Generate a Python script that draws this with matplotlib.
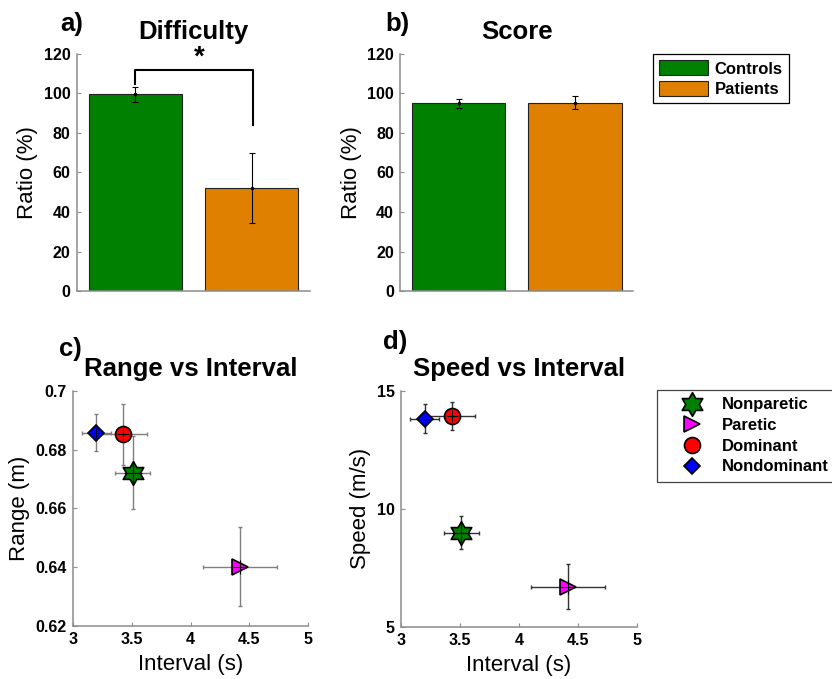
import numpy as np
import matplotlib
matplotlib.use('Agg')
import matplotlib.pyplot as plt
from matplotlib.path import Path
from matplotlib.patches import Patch
from matplotlib.lines import Line2D

plt.rcParams['font.family'] = ['Liberation Sans', 'DejaVu Sans']

# bar data (a, b)
groups = ['Controls', 'Patients']
difficulty_mean = [99.5, 52.3]
difficulty_err = [4.0, 17.7]
score_mean = [95.0, 95.2]
score_err = [2.1, 3.3]
ratio_ticks = [0, 20, 40, 60, 80, 100, 120]

# scatter data (c, d)
conditions = ['Nonparetic', 'Paretic', 'Dominant', 'Nondominant']
interval_mean = [3.51, 4.42, 3.43, 3.20]
interval_err = [0.148, 0.315, 0.20, 0.125]
range_mean = [0.6722, 0.6402, 0.6852, 0.6858]
range_err = [0.0125, 0.0135, 0.0105, 0.0064]
speed_mean = [8.98, 6.70, 13.95, 13.83]
speed_err = [0.70, 0.95, 0.60, 0.62]
interval_ticks = [3, 3.5, 4, 4.5, 5]
interval_labels = ['3', '3.5', '4', '4.5', '5']
range_ticks = [0.62, 0.64, 0.66, 0.68, 0.70]
range_labels = ['0.62', '0.64', '0.66', '0.68', '0.7']
speed_ticks = [5, 10, 15]

bar_colors = ['#008000', '#E08000']

# hexagram marker, point up
ang_out = np.deg2rad(90 + 60 * np.arange(6))
ang_in = ang_out + np.deg2rad(30)
r_in = 1 / np.sqrt(3)
verts = []
for a, b in zip(ang_out, ang_in):
    verts.append((np.cos(a), np.sin(a)))
    verts.append((r_in * np.cos(b), r_in * np.sin(b)))
verts.append(verts[0])
codes = [Path.MOVETO] + [Path.LINETO] * 11 + [Path.CLOSEPOLY]
hexagram = Path(verts, codes)

mstyle = {
    'Nonparetic': dict(marker=hexagram, color='#008000', ms=17),
    'Paretic': dict(marker='>', color='#FF00FF', ms=12),
    'Dominant': dict(marker='o', color='#FF0000', ms=11.5),
    'Nondominant': dict(marker='D', color='#0000FF', ms=8.5),
}

TICK_FS = 11.5
LABEL_FS = 16
TITLE_FS = 18.5
LEG_FS = 12


def style_axes(ax):
    for s in ['top', 'right']:
        ax.spines[s].set_visible(False)
    for s in ['left', 'bottom']:
        ax.spines[s].set_color('#8c8c8c')
        ax.spines[s].set_linewidth(1.1)
    ax.tick_params(direction='in', length=3, color='#8c8c8c', labelsize=TICK_FS, pad=4.5)
    for lab in ax.get_xticklabels() + ax.get_yticklabels():
        lab.set_fontweight('bold')


fig = plt.figure(figsize=(8.32, 6.79), dpi=100)

ax_a = fig.add_axes([0.0925, 0.5714, 0.2801, 0.3491])
ax_b = fig.add_axes([0.4811, 0.5714, 0.2801, 0.3491])
ax_c = fig.add_axes([0.0874, 0.0781, 0.2832, 0.3461])
ax_d = fig.add_axes([0.4820, 0.0770, 0.2833, 0.3472])

x = np.arange(1, len(groups) + 1)
for ax, means, errs, title in [(ax_a, difficulty_mean, difficulty_err, 'Difficulty'),
                                (ax_b, score_mean, score_err, 'Score')]:
    ax.bar(x, means, width=0.8, color=bar_colors, edgecolor='#222222', linewidth=0.8)
    ax.errorbar(x, means, yerr=errs, fmt='.', color='black', ms=3,
                elinewidth=0.8, capsize=2, capthick=0.8)
    ax.set_xlim(0.5, 2.5)
    ax.set_ylim(0, 120)
    ax.set_yticks(ratio_ticks)
    ax.set_xticks([])
    ax.set_ylabel('Ratio (%)', fontsize=LABEL_FS, labelpad=4)
    ax.set_title(title, fontsize=TITLE_FS, fontweight='bold', pad=11)
    style_axes(ax)

# significance bracket on difficulty
ax_a.plot([1, 1, 2.01, 2.01], [105, 111.7, 111.7, 84], color='black', lw=1.5, clip_on=False)
ax_a.text(1.55, 111.5, '*', fontsize=20, fontweight='bold', ha='center', va='bottom')

for ax, ymean, yerr, ecol, ylabel, title in [
        (ax_c, range_mean, range_err, '#7f7f7f', 'Range (m)', 'Range vs Interval'),
        (ax_d, speed_mean, speed_err, '#333333', 'Speed (m/s)', 'Speed vs Interval')]:
    for i, cond in enumerate(conditions):
        st = mstyle[cond]
        ax.errorbar(interval_mean[i], ymean[i], xerr=interval_err[i], yerr=yerr[i],
                    fmt='none', ecolor=ecol, elinewidth=1.0, capsize=1.5, capthick=1.0, zorder=2)
        ax.plot(interval_mean[i], ymean[i], linestyle='none', marker=st['marker'],
                markersize=st['ms'], markerfacecolor=st['color'], markeredgecolor='black',
                markeredgewidth=1.2, zorder=3)
        ax.plot(interval_mean[i], ymean[i], linestyle='none', marker='+',
                markersize=st['ms'] * 0.8, color='black', markeredgewidth=0.8, zorder=4)
    ax.set_xlim(3, 5)
    ax.set_xticks(interval_ticks)
    ax.set_xticklabels(interval_labels)
    ax.set_xlabel('Interval (s)', fontsize=LABEL_FS, labelpad=5)
    ax.set_ylabel(ylabel, fontsize=LABEL_FS, labelpad=4)
    ax.set_title(title, fontsize=TITLE_FS, fontweight='bold', pad=11)

ax_c.set_ylim(0.62, 0.70)
ax_c.set_yticks(range_ticks)
ax_c.set_yticklabels(range_labels)
ax_d.set_ylim(5, 15)
ax_d.set_yticks(speed_ticks)
style_axes(ax_c)
style_axes(ax_d)

# panel letters
fig.text(60 / 832, 1 - 24 / 679, 'a)', fontsize=TITLE_FS, fontweight='bold', ha='left', va='center')
fig.text(385 / 832, 1 - 24 / 679, 'b)', fontsize=TITLE_FS, fontweight='bold', ha='left', va='center')
fig.text(59 / 832, 1 - 349 / 679, 'c)', fontsize=TITLE_FS, fontweight='bold', ha='left', va='center')
fig.text(383 / 832, 1 - 342 / 679, 'd)', fontsize=TITLE_FS, fontweight='bold', ha='left', va='center')

# legends
bar_handles = [Patch(facecolor=c, edgecolor='#222222', linewidth=0.8) for c in bar_colors]
leg1 = fig.legend(bar_handles, groups, loc='upper left',
                  bbox_to_anchor=(653 / 832, 1 - 54 / 679), borderaxespad=0,
                  prop={'size': LEG_FS, 'weight': 'bold'}, handlelength=2.93, handleheight=1.0,
                  handletextpad=0.38, labelspacing=0.25, borderpad=0.38,
                  fancybox=False, edgecolor='black', framealpha=1)
leg1.get_frame().set_linewidth(0.9)

pt_handles = [Line2D([], [], linestyle='none', marker=mstyle[c]['marker'],
                     markersize=mstyle[c]['ms'], markerfacecolor=mstyle[c]['color'],
                     markeredgecolor='black', markeredgewidth=1.2) for c in conditions]
leg2 = fig.legend(pt_handles, conditions, loc='upper left',
                  bbox_to_anchor=(656.7 / 832, 1 - 390 / 679), borderaxespad=0,
                  prop={'size': LEG_FS, 'weight': 'bold'}, handlelength=3.3, numpoints=1,
                  handletextpad=0.19, labelspacing=0.34, borderpad=0.45,
                  fancybox=False, edgecolor='#444444', framealpha=1)
leg2.get_frame().set_linewidth(0.9)

fig.savefig('out.png', dpi=100)
